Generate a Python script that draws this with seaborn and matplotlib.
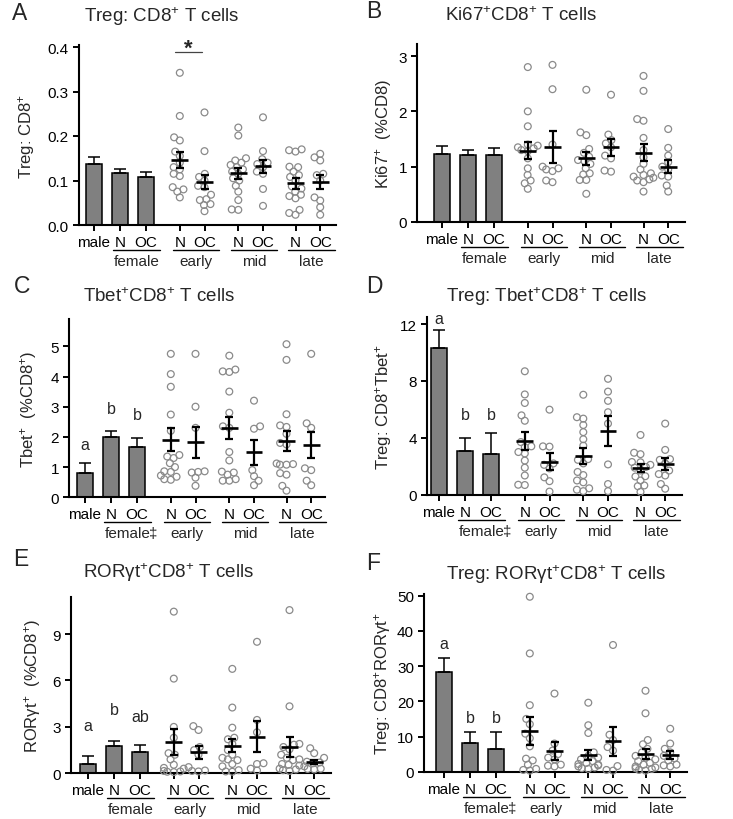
import numpy as np
import pandas as pd
import matplotlib
matplotlib.use("Agg")
import matplotlib.pyplot as plt
import matplotlib.transforms as mtrans
import seaborn as sns

# ---------------- categories / labels ----------------
BAR_LABELS = ["male", "N", "OC"]
PAIR_LABELS = ["N", "OC"]
GROUPS = ["early", "mid", "late"]
FEMALE_LABEL = "female"

# ---------------- Panel A ----------------
A_bar_mean = [0.137, 0.117, 0.108]
A_bar_sem = [0.015, 0.009, 0.010]
A_early_N = [0.342, 0.245, 0.197, 0.19, 0.165, 0.155, 0.14, 0.13, 0.125, 0.115, 0.11, 0.085, 0.08, 0.075, 0.062]
A_early_OC = [0.253, 0.166, 0.115, 0.108, 0.1, 0.088, 0.085, 0.068, 0.058, 0.056, 0.047, 0.045, 0.031]
A_mid_N = [0.219, 0.201, 0.15, 0.145, 0.14, 0.135, 0.13, 0.125, 0.12, 0.115, 0.105, 0.1, 0.088, 0.075, 0.056, 0.035, 0.034]
A_mid_OC = [0.242, 0.166, 0.148, 0.14, 0.137, 0.13, 0.12, 0.115, 0.081, 0.043]
A_late_N = [0.17, 0.168, 0.165, 0.131, 0.13, 0.12, 0.112, 0.108, 0.1, 0.087, 0.082, 0.075, 0.068, 0.065, 0.06, 0.034, 0.027, 0.023]
A_late_OC = [0.16, 0.152, 0.145, 0.115, 0.112, 0.1, 0.062, 0.055, 0.04, 0.023]
A_mean = [0.147, 0.097, 0.116, 0.132, 0.094, 0.097]
A_sem = [0.018, 0.0155, 0.0125, 0.015, 0.012, 0.0155]

# ---------------- Panel B ----------------
B_bar_mean = [1.235, 1.205, 1.21]
B_bar_sem = [0.135, 0.095, 0.13]
B_early_N = [2.8, 2.0, 1.73, 1.4, 1.38, 1.35, 1.33, 1.3, 1.28, 1.15, 0.97, 0.85, 0.75, 0.7, 0.6]
B_early_OC = [2.84, 2.4, 1.4, 1.0, 0.97, 0.95, 0.92, 0.75, 0.72]
B_mid_N = [2.39, 1.62, 1.57, 1.32, 1.25, 1.18, 1.12, 1.1, 1.05, 0.97, 0.88, 0.86, 0.76, 0.76, 0.51]
B_mid_OC = [2.3, 1.58, 1.48, 1.42, 1.35, 1.2, 1.15, 0.93, 0.91]
B_late_N = [2.64, 2.37, 1.86, 1.83, 1.52, 1.3, 1.17, 1.05, 0.95, 0.88, 0.85, 0.82, 0.8, 0.77, 0.75, 0.72, 0.55]
B_late_OC = [1.68, 1.34, 1.2, 1.08, 1.0, 0.95, 0.84, 0.82, 0.66, 0.55]
B_mean = [1.29, 1.36, 1.15, 1.35, 1.25, 1.0]
B_sem = [0.155, 0.29, 0.115, 0.15, 0.155, 0.115]

# ---------------- Panel C ----------------
C_bar_mean = [0.81, 2.01, 1.68]
C_bar_sem = [0.32, 0.2, 0.3]
C_early_N = [4.75, 4.08, 3.66, 2.74, 2.2, 1.4, 1.35, 1.3, 1.13, 1.0, 0.86, 0.84, 0.72, 0.68, 0.6, 0.58]
C_early_OC = [4.75, 3.0, 2.3, 0.86, 0.84, 0.82, 0.65, 0.38]
C_mid_N = [4.69, 4.23, 4.17, 4.15, 3.5, 2.8, 2.35, 2.3, 1.5, 1.22, 0.85, 0.82, 0.75, 0.6, 0.55, 0.55]
C_mid_OC = [3.2, 2.35, 2.27, 0.9, 0.7, 0.55, 0.4]
C_late_N = [5.07, 4.55, 2.75, 2.38, 2.33, 2.1, 1.8, 1.75, 1.12, 1.1, 1.08, 1.08, 0.8, 0.75, 0.38, 0.22]
C_late_OC = [4.75, 2.45, 2.3, 0.96, 0.9, 0.55, 0.4]
C_mean = [1.91, 1.82, 2.29, 1.49, 1.87, 1.73]
C_sem = [0.37, 0.52, 0.37, 0.42, 0.34, 0.44]
C_letters = ["a", "b", "b"]

# ---------------- Panel D ----------------
D_bar_mean = [10.29, 3.04, 2.83]
D_bar_sem = [1.29, 0.98, 1.5]
D_early_N = [8.68, 7.05, 6.45, 5.58, 5.2, 3.7, 3.4, 3.35, 3.0, 2.9, 2.4, 1.9, 1.35, 0.7, 0.68]
D_early_OC = [5.98, 3.4, 3.38, 2.2, 2.1, 1.85, 1.22, 0.95, 0.22]
D_mid_N = [7.03, 5.45, 5.35, 4.9, 4.4, 3.9, 3.45, 2.5, 2.45, 2.2, 1.6, 1.38, 1.0, 0.87, 0.45, 0.35, 0.25]
D_mid_OC = [8.15, 7.25, 6.6, 5.8, 5.0, 2.13, 0.75, 0.25]
D_late_N = [4.2, 2.95, 2.85, 2.3, 2.28, 2.1, 1.95, 1.9, 1.7, 1.3, 1.28, 1.0, 0.65, 0.6, 0.2]
D_late_OC = [5.0, 3.15, 2.5, 2.45, 2.2, 1.7, 1.45, 1.35, 0.75, 0.42]
D_mean = [3.8, 2.32, 2.74, 4.46, 1.88, 2.16]
D_sem = [0.64, 0.58, 0.55, 1.07, 0.25, 0.44]
D_letters = ["a", "b", "b"]

# ---------------- Panel E ----------------
E_bar_mean = [0.6, 1.79, 1.36]
E_bar_sem = [0.5, 0.32, 0.47]
E_early_N = [10.45, 6.12, 3.0, 2.3, 1.3, 1.2, 0.9, 0.55, 0.35, 0.3, 0.15, 0.12, 0.1, 0.08]
E_early_OC = [3.05, 2.8, 1.7, 1.5, 1.2, 0.4, 0.18, 0.15, 0.12]
E_mid_N = [6.75, 4.25, 2.95, 2.3, 2.2, 1.9, 1.5, 1.2, 1.0, 0.9, 0.85, 0.6, 0.45, 0.2, 0.12, 0.1]
E_mid_OC = [8.5, 3.45, 2.65, 0.65, 0.6, 0.3, 0.18]
E_late_N = [10.55, 4.33, 1.9, 1.85, 1.7, 1.55, 1.2, 1.0, 0.9, 0.85, 0.6, 0.55, 0.5, 0.3, 0.25, 0.2, 0.15]
E_late_OC = [1.62, 1.3, 1.0, 0.75, 0.7, 0.65, 0.45, 0.3, 0.28, 0.25]
E_mean = [2.04, 1.36, 1.78, 2.37, 1.72, 0.71]
E_sem = [0.84, 0.41, 0.43, 1.0, 0.65, 0.14]
E_letters = ["a", "b", "ab"]

# ---------------- Panel F ----------------
F_bar_mean = [28.2, 8.05, 6.44]
F_bar_sem = [4.0, 3.15, 4.76]
F_early_N = [49.7, 33.6, 18.9, 15.0, 13.5, 10.8, 9.5, 7.2, 3.7, 3.2, 2.0, 0.8, 0.5, 0.3]
F_early_OC = [22.2, 8.0, 6.0, 5.0, 4.0, 3.5, 2.0, 1.7, 1.5]
F_mid_N = [19.6, 13.2, 11.0, 5.5, 4.5, 4.0, 3.5, 3.0, 2.5, 2.2, 2.0, 1.8, 1.5, 1.2, 1.0, 0.8]
F_mid_OC = [36.0, 10.5, 9.0, 7.0, 6.0, 1.6, 0.5, 0.3]
F_late_N = [23.0, 16.6, 9.0, 7.8, 6.5, 5.5, 4.5, 4.0, 3.5, 3.0, 2.5, 2.0, 1.5, 1.2, 1.0, 0.8, 0.5, 0.3]
F_late_OC = [12.2, 8.0, 6.5, 5.5, 4.5, 3.8, 3.2, 2.0, 1.8, 1.5]
F_mean = [11.65, 5.8, 4.83, 8.6, 5.0, 4.83]
F_sem = [3.95, 2.5, 1.4, 4.2, 1.45, 1.1]
F_letters = ["a", "b", "b"]

# ---------------- layout (positions / styles) ----------------
X_POS = [0, 1, 2, 3.3, 4.25, 5.55, 6.5, 7.75, 8.7]
UNIT_PX = 26.0
W_PX, H_PX = 733, 820
BAR_COLOR = "#808080"
PT_COLOR = "#8a8a8a"
PT_SIZE = 4.9        # drawn marker diameter (pt)
SWARM_SIZE = 3.6     # marker diameter used to lay out the swarm (pt)

PANELS = [
    dict(letter="A", title=r"Treg: CD8$^{+}$ T cells", ylabel=r"Treg: CD8$^{+}$",
         bars=(A_bar_mean, A_bar_sem), groups=[A_early_N, A_early_OC, A_mid_N, A_mid_OC, A_late_N, A_late_OC],
         stats=(A_mean, A_sem), letters=None, letter_y=None, dagger=False, scale=445.0,
         px=(79, 336, 226, 94), ytop=0.404, yticks=[0, 0.1, 0.2, 0.3, 0.4], yfmt="{:.1f}", lpad=8,
         letter_xy=(12, 19.5), title_xy=(161.7, 21.5)),
    dict(letter="B", title=r"Ki67$^{+}$CD8$^{+}$ T cells", ylabel=r"Ki67$^{+}$  (%CD8)",
         bars=(B_bar_mean, B_bar_sem), groups=[B_early_N, B_early_OC, B_mid_N, B_mid_OC, B_late_N, B_late_OC],
         stats=(B_mean, B_sem), letters=None, letter_y=None, dagger=False, scale=55.33,
         px=(417, 685, 223, 442), ytop=3.22, yticks=[0, 1, 2, 3], yfmt="{:.0f}", lpad=3,
         letter_xy=(366, 18.5), title_xy=(521, 21)),
    dict(letter="C", title=r"Tbet$^{+}$CD8$^{+}$ T cells", ylabel=r"Tbet$^{+}$  (%CD8$^{+}$)",
         bars=(C_bar_mean, C_bar_sem), groups=[C_early_N, C_early_OC, C_mid_N, C_mid_OC, C_late_N, C_late_OC],
         stats=(C_mean, C_sem), letters=C_letters, letter_y=[1.76, 2.95, 2.74], dagger=True, scale=30.2,
         px=(69, 325, 498.3, 85), ytop=5.9, yticks=[0, 1, 2, 3, 4, 5], yfmt="{:.0f}", lpad=8,
         letter_xy=(14, 293), title_xy=(159, 301.5)),
    dict(letter="D", title=r"Treg: Tbet$^{+}$CD8$^{+}$ T cells", ylabel=r"Treg: CD8$^{+}$Tbet$^{+}$",
         bars=(D_bar_mean, D_bar_sem), groups=[D_early_N, D_early_OC, D_mid_N, D_mid_OC, D_late_N, D_late_OC],
         stats=(D_mean, D_sem), letters=D_letters, letter_y=[12.4, 5.63, 5.63], dagger=True, scale=14.22,
         px=(427, 682, 495.7, 439), ytop=12.5, yticks=[0, 4, 8, 12], yfmt="{:.0f}", lpad=4.5,
         letter_xy=(366, 293), title_xy=(546.5, 301.5)),
    dict(letter="E", title="ROR\u03b3t$^{+}$CD8$^{+}$ T cells", ylabel="ROR\u03b3t$^{+}$  (%CD8$^{+}$)",
         bars=(E_bar_mean, E_bar_sem), groups=[E_early_N, E_early_OC, E_mid_N, E_mid_OC, E_late_N, E_late_OC],
         stats=(E_mean, E_sem), letters=E_letters, letter_y=[3.08, 4.11, 3.66], dagger=False, scale=15.47,
         px=(71, 331, 774.3, 88), ytop=11.4, yticks=[0, 3, 6, 9], yfmt="{:.0f}", lpad=7,
         letter_xy=(13, 566.5), title_xy=(168.5, 578)),
    dict(letter="F", title="Treg: ROR\u03b3t$^{+}$CD8$^{+}$ T cells", ylabel="Treg: CD8$^{+}$ROR\u03b3t$^{+}$",
         bars=(F_bar_mean, F_bar_sem), groups=[F_early_N, F_early_OC, F_mid_N, F_mid_OC, F_late_N, F_late_OC],
         stats=(F_mean, F_sem), letters=F_letters, letter_y=[36.5, 15.45, 15.45], dagger=True, scale=3.52,
         px=(424, 687, 772.7, 444), ytop=50.5, yticks=[0, 10, 20, 30, 40, 50], yfmt="{:.0f}", lpad=3,
         letter_xy=(366, 570), title_xy=(556, 580)),
]

sns.set_style("ticks")
plt.rcParams["font.family"] = ["Liberation Sans", "DejaVu Sans"]
plt.rcParams["mathtext.fontset"] = "custom"
plt.rcParams["mathtext.rm"] = "Liberation Sans"
plt.rcParams["mathtext.it"] = "Liberation Sans:italic"
plt.rcParams["mathtext.bf"] = "Liberation Sans:bold"

fig = plt.figure(figsize=(W_PX / 100, H_PX / 100), dpi=100)
fig.patch.set_facecolor("white")

swarm_colls = []

for P in PANELS:
    L, R, B0, first = P["px"]
    ytop = P["ytop"]
    T = B0 - ytop * P["scale"]
    ax = fig.add_axes([L / W_PX, 1 - B0 / H_PX, (R - L) / W_PX, (B0 - T) / H_PX])
    ax.set_facecolor("white")

    bar_mean, bar_sem = P["bars"]
    bx = X_POS[:3]
    sns.barplot(x=bx, y=bar_mean, native_scale=True, width=0.58, color=BAR_COLOR,
                saturation=1, edgecolor="black", linewidth=1.1, errorbar=None, ax=ax)
    ax.errorbar(bx, bar_mean, yerr=[np.zeros(3), bar_sem], fmt="none", ecolor="black",
                elinewidth=1.1, capsize=4.2, capthick=1.1, zorder=2)

    # scatter groups (column scatter)
    gx = X_POS[3:]
    df = pd.DataFrame({
        "pos": np.concatenate([[x] * len(g) for x, g in zip(gx, P["groups"])]),
        "val": np.concatenate(P["groups"]),
    })
    n0 = len(ax.collections)
    sns.swarmplot(data=df, x="pos", y="val", native_scale=True, orient="x", size=SWARM_SIZE,
                  color=PT_COLOR, edgecolor=PT_COLOR, linewidth=0.9, warn_thresh=1, ax=ax, zorder=3)
    for coll in ax.collections[n0:]:
        coll.set_facecolor("none")
        coll.set_edgecolor(PT_COLOR)
        coll.set_linewidth(0.9)
        coll.set_clip_on(False)
        swarm_colls.append(coll)

    gm, gs = P["stats"]
    ax.errorbar(gx, gm, yerr=gs, fmt="none", ecolor="black", elinewidth=1.6,
                capsize=3.0, capthick=1.6, zorder=4)
    ax.hlines(gm, np.array(gx) - 0.32, np.array(gx) + 0.32, colors="black", lw=1.9, zorder=4)

    # axes styling
    xl = (L - first) / UNIT_PX
    xr = (R - first) / UNIT_PX
    ax.set_xlim(xl, xr)
    ax.set_ylim(0, ytop)
    ax.set_xticks(X_POS)
    ax.set_xticklabels(BAR_LABELS + PAIR_LABELS * 3)
    ax.set_yticks(P["yticks"])
    ax.set_yticklabels([P["yfmt"].format(v) for v in P["yticks"]])
    ax.set_xlabel("")
    ax.set_ylabel(P["ylabel"], fontsize=12, labelpad=P["lpad"])
    for s in ["top", "right"]:
        ax.spines[s].set_visible(False)
    for s in ["left", "bottom"]:
        ax.spines[s].set_linewidth(1.5)
        ax.spines[s].set_color("black")
    ax.tick_params(axis="both", width=1.4, length=4.2, labelsize=11, color="black",
                   labelcolor="black", direction="out", pad=3)

    # group underlines and labels
    tr_line = mtrans.offset_copy(ax.get_xaxis_transform(), fig=fig, y=-25, units="dots")
    tr_lab = mtrans.offset_copy(ax.get_xaxis_transform(), fig=fig, y=-36, units="dots")
    spans = [(X_POS[1], X_POS[2]), (X_POS[3], X_POS[4]), (X_POS[5], X_POS[6]), (X_POS[7], X_POS[8])]
    for (xa, xb), lab in zip(spans, [FEMALE_LABEL] + GROUPS):
        x0, x1 = xa - 0.27, xb + 0.55
        ax.plot([x0, x1], [0, 0], transform=tr_line, color="black", lw=1.0, clip_on=False)
        ax.text((x0 + x1) / 2, 0, lab, transform=tr_lab, ha="center", va="center", fontsize=11)
    if P["dagger"]:
        ax.text(X_POS[2] + 0.64, 0, "\u2021", transform=tr_lab, ha="center", va="center", fontsize=11)

    # significance letters
    if P["letters"]:
        for x, t, y in zip(bx, P["letters"], P["letter_y"]):
            ax.text(x, y, t, ha="center", va="center", fontsize=11.5, clip_on=False)

    # panel letter and title
    lx, ly = P["letter_xy"]
    fig.text(lx / W_PX, 1 - ly / H_PX, P["letter"], fontsize=16.5, ha="left", va="baseline")
    tx, ty = P["title_xy"]
    fig.text(tx / W_PX, 1 - ty / H_PX, P["title"], fontsize=13.5, ha="center", va="baseline")

    if P["letter"] == "A":
        sx0 = X_POS[3] - 0.18
        sx1 = X_POS[4] - 0.1
        ax.plot([sx0, sx1], [0.389, 0.389], color="#444444", lw=0.9, clip_on=False)
        ax.text((sx0 + sx1) / 2, 0.384, "*", ha="center", va="baseline", fontsize=16,
                fontweight="bold", clip_on=False)

# lay out the swarms with a compact spacing, then freeze them and draw the final marker size
fig.canvas.draw()
for coll in swarm_colls:
    if "draw" in coll.__dict__:
        del coll.__dict__["draw"]
    coll.set_sizes([PT_SIZE ** 2])

fig.savefig("out.png", dpi=100, facecolor="white")
